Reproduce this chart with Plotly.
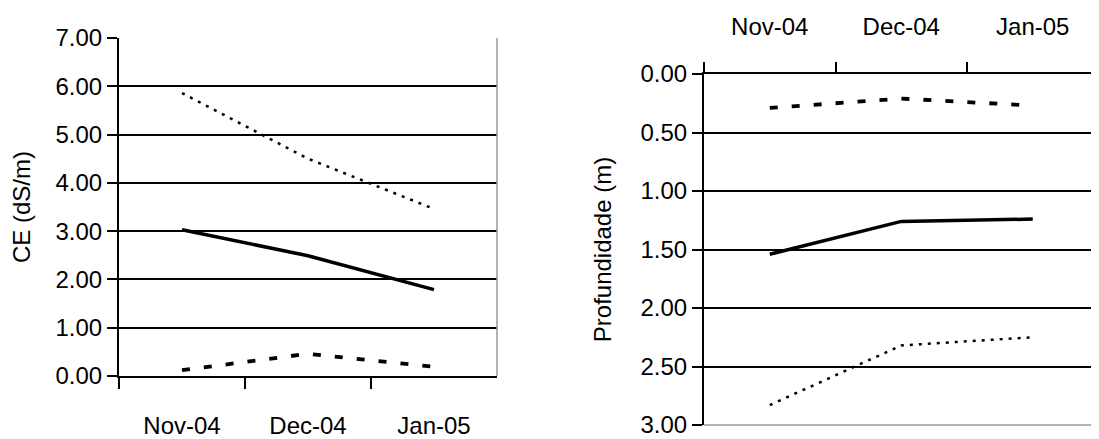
import plotly.graph_objects as go

months = ["Nov-04", "Dec-04", "Jan-05"]

# Left chart: CE (dS/m)
ce_solid = [3.03, 2.49, 1.79]
ce_dotted = [5.86, 4.50, 3.46]
ce_dashed = [0.12, 0.46, 0.19]

# Right chart: Profundidade (m)
prof_solid = [1.54, 1.26, 1.24]
prof_dotted = [2.83, 2.32, 2.25]
prof_dashed = [0.29, 0.21, 0.27]

ce_ticks = [0, 1, 2, 3, 4, 5, 6, 7]
prof_ticks = [0, 0.5, 1.0, 1.5, 2.0, 2.5, 3.0]

FONT = "Liberation Sans Narrow, Arial Narrow, Liberation Sans, Arial, sans-serif"
OFF = 8  # page body margin
W, H = 1099 - OFF, 439 - OFF

solid = dict(color="black", width=3.5)
dashed = dict(color="black", width=3.8, dash="8px,14px")
dotted = dict(color="black", width=2.5, dash="3px,6px")

fig = go.Figure()
for y, ln in [(ce_solid, solid), (ce_dotted, dotted), (ce_dashed, dashed)]:
    fig.add_trace(go.Scatter(x=months, y=y, mode="lines", line=ln, xaxis="x", yaxis="y", showlegend=False))
for y, ln in [(prof_solid, solid), (prof_dotted, dotted), (prof_dashed, dashed)]:
    fig.add_trace(go.Scatter(x=months, y=y, mode="lines", line=ln, xaxis="x2", yaxis="y2", showlegend=False))

def px_x(p):
    return (p - OFF) / W

def px_y(p):
    return 1 - (p - OFF) / H

tickfont = dict(family=FONT, size=24, color="black")

fig.update_layout(
    width=W, height=H,
    margin=dict(l=0, r=0, t=0, b=0),
    paper_bgcolor="white", plot_bgcolor="white",
    font=dict(family=FONT, color="black"),
    xaxis=dict(
        domain=[px_x(119), px_x(497)], anchor="y",
        type="category", categoryarray=months, range=[-0.5, 2.5],
        tickson="boundaries", ticks="outside", ticklen=11, tickwidth=2, tickcolor="black",
        showline=True, linecolor="black", linewidth=2, showgrid=False,
        tickfont=tickfont, ticklabelstandoff=27, automargin=False,
    ),
    yaxis=dict(
        domain=[px_y(376), px_y(38)], anchor="x",
        range=[0, 7], tickvals=ce_ticks, ticktext=[f"{v:.2f}" for v in ce_ticks],
        ticks="outside", ticklen=10, tickwidth=2, tickcolor="black",
        showline=True, linecolor="black", linewidth=2,
        showgrid=True, gridcolor="black", gridwidth=1.5, zeroline=False,
        tickfont=tickfont, ticklabelstandoff=0, automargin=False,
        title=dict(text="CE (dS/m)", font=dict(family=FONT, size=24), standoff=22),
    ),
    xaxis2=dict(
        domain=[px_x(704), px_x(1098.5)], anchor="y2", side="top",
        type="category", categoryarray=months, range=[-0.5, 2.5],
        tickson="boundaries", ticks="outside", ticklen=10, tickwidth=2, tickcolor="black",
        showline=True, linecolor="black", linewidth=2, showgrid=False,
        tickfont=tickfont, ticklabelstandoff=27, automargin=False,
    ),
    yaxis2=dict(
        domain=[px_y(425), px_y(74)], anchor="x2",
        range=[3, 0], tickvals=prof_ticks, ticktext=[f"{v:.2f}" for v in prof_ticks],
        ticks="outside", ticklen=10, tickwidth=2, tickcolor="black",
        showline=True, linecolor="black", linewidth=2,
        showgrid=True, gridcolor="black", gridwidth=1.5, zeroline=False,
        tickfont=tickfont, ticklabelstandoff=0, automargin=False,
        title=dict(text="Profundidade (m)", font=dict(family=FONT, size=24), standoff=22),
    ),
    shapes=[
        dict(type="line", xref="x domain", yref="y domain", x0=1, x1=1, y0=0, y1=1,
             line=dict(color="#999999", width=1.5)),
        dict(type="line", xref="x2 domain", yref="y2 domain", x0=0, x1=1, y0=0, y1=0,
             line=dict(color="#999999", width=1.5)),
    ],
)

fig.write_html("out.html")
